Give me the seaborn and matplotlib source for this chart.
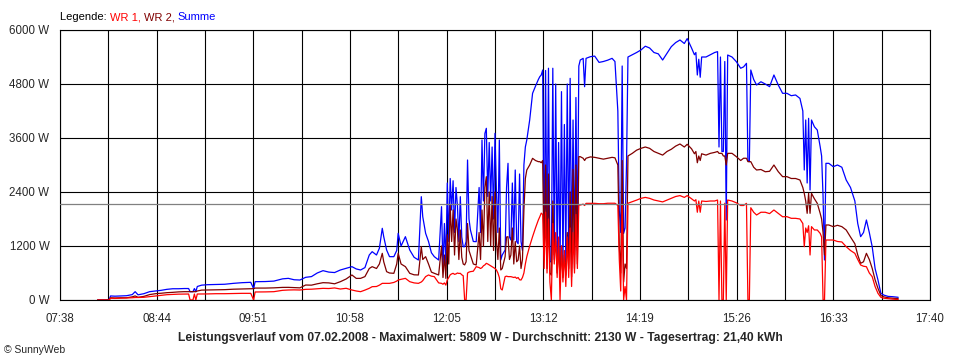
import matplotlib
matplotlib.use("Agg")
import matplotlib.pyplot as plt
import numpy as np
import pandas as pd
import seaborn as sns

# --- data (07.02.2008) ---
times = [
    "08:04", "08:10", "08:12", "08:13", "08:16", "08:20", "08:24", "08:28", "08:30", "08:32",
    "08:36", "08:40", "08:44", "08:48", "08:52", "08:56", "09:00", "09:04", "09:07", "09:08",
    "09:10", "09:11", "09:12", "09:13", "09:16", "09:20", "09:26", "09:32", "09:38", "09:44",
    "09:50", "09:52", "09:53", "10:00", "10:06", "10:12", "10:16", "10:20", "10:24", "10:28",
    "10:32", "10:36", "10:40", "10:44", "10:48", "10:52", "10:56",
    "11:00", "11:03", "11:06", "11:09", "11:12", "11:14", "11:17", "11:19", "11:21", "11:22",
    "11:24", "11:26", "11:29", "11:31", "11:32", "11:34", "11:37", "11:40", "11:43", "11:46",
    "11:48", "11:49", "11:51", "11:53", "11:55", "11:57", "12:00", "12:02", "12:03", "12:04",
    "12:05", "12:06", "12:07", "12:08", "12:09", "12:10", "12:11", "12:12", "12:13", "12:14",
    "12:15", "12:16", "12:17", "12:18", "12:19", "12:20", "12:21", "12:22", "12:24", "12:26",
    "12:28", "12:29", "12:30", "12:31", "12:32", "12:33", "12:34", "12:35", "12:36", "12:37",
    "12:38", "12:39", "12:40", "12:41", "12:42", "12:43", "12:44", "12:46", "12:47", "12:48",
    "12:49", "12:50", "12:51", "12:52", "12:53", "12:54", "12:55", "12:56", "12:57", "12:58",
    "12:59", "13:00", "13:01", "13:03", "13:05", "13:07", "13:09", "13:10", "13:11", "13:12",
    "13:13", "13:14", "13:15", "13:16", "13:17", "13:18", "13:19", "13:20", "13:21", "13:22",
    "13:23", "13:24", "13:25", "13:26", "13:27", "13:28", "13:29", "13:30", "13:31", "13:32",
    "13:33", "13:34", "13:35", "13:36", "13:37", "13:38", "13:40", "13:41", "13:42", "13:45",
    "13:48", "13:51", "13:54", "13:57", "14:00", "14:02", "14:04", "14:05", "14:06", "14:07",
    "14:08", "14:09", "14:10", "14:11", "14:14", "14:17", "14:20", "14:23", "14:26", "14:29",
    "14:32", "14:35", "14:38", "14:41", "14:44", "14:47", "14:50", "14:52", "14:55", "14:57",
    "14:58", "14:59", "15:00", "15:01", "15:02", "15:05", "15:08", "15:11", "15:13", "15:14",
    "15:15", "15:16", "15:17", "15:18", "15:19", "15:20", "15:23", "15:26", "15:29", "15:31",
    "15:33", "15:34", "15:35", "15:36", "15:38", "15:40", "15:43", "15:46", "15:49", "15:52",
    "15:55", "15:58", "16:01", "16:04", "16:07", "16:10", "16:12", "16:13", "16:14", "16:15",
    "16:16", "16:17", "16:18", "16:20", "16:22", "16:24", "16:25", "16:26", "16:27", "16:28",
    "16:30", "16:33", "16:36", "16:39", "16:42", "16:45", "16:48", "16:50", "16:52", "16:54",
    "16:56", "16:58", "17:00", "17:02", "17:04", "17:06", "17:08", "17:11", "17:14", "17:18",
]
wr1 = [
    0, 0, 0, 40, 35, 40, 45, 50, 55, 55,
    60, 74, 90, 100, 118, 125, 130, 133, 133, 0,
    0, 133, 0, 133, 133, 135, 140, 140, 145, 148,
    148, 0, 178, 180, 185, 215, 222, 225, 222, 237,
    240, 250, 259, 255, 268, 244, 260,
    222, 200, 185, 220, 260, 296, 300, 330, 370, 370,
    370, 370, 390, 420, 444, 460, 481, 407, 380, 370,
    400, 430, 520, 556, 530, 519, 380, 370, 350, 380,
    330, 450, 500, 560, 580, 593, 570, 580, 600, 590,
    593, 560, 540, 0, 0, 600, 620, 630, 640, 741,
    720, 700, 720, 760, 780, 815, 800, 780, 760, 740,
    720, 700, 667, 600, 500, 250, 222, 519, 530, 519,
    520, 519, 510, 500, 510, 480, 500, 450, 444, 500,
    600, 800, 963, 1200, 1407, 1600, 1778, 1850, 1930, 1900,
    700, 1950, 600, 1800, 400, 0, 1700, 800, 1500, 500,
    1400, 0, 1200, 400, 1100, 300, 1400, 500, 1600, 300,
    1500, 600, 1900, 700, 2111, 2111, 2130, 2100, 2148, 2148,
    2148, 2140, 2140, 2150, 2150, 2150, 2100, 900, 200, 2100,
    0, 300, 0, 2150, 2185, 2220, 2259, 2280, 2259, 2222,
    2200, 2180, 2220, 2260, 2300, 2320, 2280, 2320, 2250, 2200,
    2230, 1950, 2200, 1950, 2200, 2190, 2200, 2200, 2222, 0,
    2200, 0, 0, 2150, 0, 2222, 2200, 2160, 2100, 2100,
    2148, 0, 0, 2050, 1950, 1889, 1950, 1950, 1920, 2000,
    1926, 1850, 1852, 1815, 1815, 1800, 1700, 1185, 1600, 1500,
    1650, 1000, 1630, 1556, 1556, 1481, 1400, 0, 0, 1333,
    1333, 1333, 1300, 1290, 1185, 1100, 1037, 900, 778, 750,
    740, 600, 519, 300, 148, 60, 40, 30, 20, 10,
]
wr2 = [
    0, 0, 0, 50, 45, 50, 50, 70, 90, 60,
    80, 120, 140, 150, 163, 170, 180, 185, 185, 185,
    185, 185, 185, 200, 220, 222, 225, 230, 240, 245,
    252, 252, 265, 265, 270, 280, 281, 275, 270, 333,
    330, 360, 385, 380, 360, 407, 467,
    556, 480, 481, 520, 700, 741, 700, 800, 1037, 850,
    630, 600, 593, 800, 1037, 800, 741, 593, 560, 556,
    1185, 900, 963, 800, 620, 593, 556, 1200, 500, 1000,
    480, 1450, 800, 2111, 1300, 2000, 1000, 1800, 1556, 900,
    1556, 950, 800, 780, 850, 1700, 1100, 1000, 800, 778,
    1500, 900, 2000, 1200, 2500, 2741, 1300, 2400, 1200, 2300,
    1100, 2400, 1300, 900, 1600, 667, 700, 963, 1400, 1407,
    900, 1000, 1600, 800, 1300, 850, 889, 1200, 700, 900,
    2000, 2700, 2889, 3000, 3148, 3100, 3074, 3074, 3050, 3100,
    900, 3000, 700, 2800, 600, 550, 2200, 1000, 1300, 600,
    1200, 519, 1200, 500, 1000, 550, 1500, 700, 2400, 519,
    2900, 700, 3000, 800, 3185, 3185, 3150, 3100, 3150, 3180,
    3170, 3150, 3130, 3150, 3170, 3160, 3000, 1200, 600, 3100,
    400, 800, 700, 3200, 3259, 3330, 3370, 3400, 3370, 3300,
    3259, 3220, 3300, 3350, 3420, 3467, 3400, 3460, 3360, 3250,
    3300, 3050, 3200, 3100, 3250, 3220, 3259, 3280, 3300, 3259,
    3259, 3259, 3200, 3200, 3000, 3259, 3259, 3185, 3100, 3150,
    3150, 3074, 3074, 3074, 2950, 2889, 2900, 2850, 2860, 3000,
    2852, 2741, 2741, 2700, 2700, 2667, 2500, 2370, 2200, 1926,
    2370, 1926, 2370, 2250, 2148, 1926, 1800, 1500, 1000, 1667,
    1667, 1630, 1660, 1630, 1556, 1400, 1250, 1000, 815, 850,
    1037, 900, 704, 450, 259, 100, 70, 50, 40, 30,
]
summe = [
    0, 0, 10, 90, 85, 90, 95, 120, 185, 115,
    140, 185, 200, 215, 237, 250, 250, 255, 255, 185,
    185, 255, 185, 300, 330, 340, 345, 350, 370, 385,
    393, 250, 407, 410, 420, 470, 481, 450, 444, 504,
    520, 600, 652, 620, 610, 667, 704,
    741, 690, 667, 720, 1000, 1074, 1000, 1150, 1593, 1407,
    1111, 963, 963, 1100, 1481, 1200, 1407, 1111, 950, 889,
    2296, 1852, 1481, 1300, 1050, 963, 889, 2074, 700, 1700,
    800, 2600, 1300, 2700, 2000, 2650, 1500, 2500, 2100, 1300,
    2296, 1400, 1185, 1185, 1300, 3111, 1800, 1556, 1300, 1296,
    2500, 1500, 3556, 2200, 3700, 3815, 2300, 3500, 2200, 3400,
    1800, 3704, 2400, 1500, 3556, 889, 1000, 1111, 2500, 3037,
    1400, 1333, 2600, 1333, 2889, 1300, 1250, 2800, 1300, 1100,
    3000, 3400, 3556, 4000, 4593, 4750, 4900, 4963, 5000, 5111,
    1000, 5100, 889, 5150, 850, 850, 5150, 900, 4800, 800,
    3500, 740, 4630, 750, 3900, 850, 4800, 1000, 4926, 800,
    4000, 1000, 4500, 1100, 5200, 5333, 5370, 4740, 5370, 5407,
    5420, 5280, 5300, 5330, 5370, 5300, 4200, 2000, 1500, 5200,
    1480, 1600, 3000, 5400, 5450, 5500, 5556, 5640, 5600, 5500,
    5470, 5333, 5480, 5630, 5720, 5778, 5700, 5809, 5600, 5450,
    5500, 5000, 5350, 4950, 5400, 5400, 5450, 5500, 5519, 3400,
    5400, 3300, 3300, 5300, 1778, 5444, 5400, 5296, 5150, 5180,
    5259, 3100, 3074, 5111, 4900, 4778, 4850, 4800, 4741, 5000,
    4778, 4593, 4593, 4540, 4556, 4480, 4200, 2889, 4000, 2600,
    4037, 2444, 4000, 3850, 3778, 3407, 3200, 2300, 889, 3037,
    3037, 2963, 3000, 2950, 2667, 2500, 2200, 1700, 1407, 1500,
    1778, 1500, 1185, 700, 444, 150, 110, 80, 74, 60,
]
average_w = 2130
y_ticks = [0, 1200, 2400, 3600, 4800, 6000]
y_labels = ["0 W", "1200 W", "2400 W", "3600 W", "4800 W", "6000 W"]
x_labels = ["07:38", "08:44", "09:51", "10:58", "12:05", "13:12", "14:19", "15:26", "16:33", "17:40"]
legend_parts = ["Legende: ", "WR 1, ", "WR 2, ", "Summe"]
legend_colors = ["black", "#FF0000", "#800000", "#0000FF"]
title = ("Leistungsverlauf vom 07.02.2008 - Maximalwert: 5809 W - "
         "Durchschnitt: 2130 W - Tagesertrag: 21,40 kWh")

assert len(times) == len(wr1) == len(wr2) == len(summe)


def to_minutes(hhmm: str) -> int:
    h, m = hhmm.split(":")
    return int(h) * 60 + int(m)


df = pd.DataFrame({"t": [to_minutes(t) for t in times], "wr1": wr1, "wr2": wr2, "summe": summe})

sns.set_style("white")
plt.rcParams["font.family"] = ["Liberation Sans", "DejaVu Sans"]

fig = plt.figure(figsize=(9.6, 3.6), dpi=100)
ax = fig.add_axes([60 / 960, 60 / 360, 870 / 960, 270 / 360])

x_start, x_end = to_minutes(x_labels[0]), to_minutes(x_labels[-1])
ax.set_xlim(x_start, x_end)
ax.set_ylim(0, 6000)
ax.set_xticks(np.linspace(x_start, x_end, len(x_labels)))
ax.set_xticks(np.linspace(x_start, x_end, 2 * len(x_labels) - 1), minor=True)
ax.set_xticklabels(x_labels)
ax.set_yticks(y_ticks)
ax.set_yticklabels(y_labels)
ax.grid(True, which="both", axis="x", color="black", linewidth=0.8)
ax.grid(True, which="major", axis="y", color="black", linewidth=0.8)
ax.set_axisbelow(True)
ax.tick_params(which="both", direction="out", length=3.6, width=0.8, color="black",
               labelsize=8.3, pad=4)
ax.tick_params(axis="x", which="major", pad=6)
for spine in ax.spines.values():
    spine.set_visible(True)
    spine.set_color("black")
    spine.set_linewidth(0.8)

for col, color in [("summe", "#0000FF"), ("wr2", "#800000"), ("wr1", "#FF0000")]:
    sns.lineplot(data=df, x="t", y=col, color=color, linewidth=0.9, estimator=None,
                 sort=False, ax=ax)
ax.axhline(average_w, color="#808080", linewidth=0.9, zorder=5)
ax.set_xlabel("")
ax.set_ylabel("")

fig.text(480 / 960, 1 - 338 / 360, title, ha="center", va="center", fontsize=8.7, fontweight="bold")
fig.text(4 / 960, 1 - 350 / 360, "\u00a9 SunnyWeb", ha="left", va="center", fontsize=7.5)

fig.canvas.draw()
renderer = fig.canvas.get_renderer()
x_pos = 60 / 960
for part, color in zip(legend_parts, legend_colors):
    t = fig.text(x_pos, 1 - 17 / 360, part, color=color, ha="left", va="center", fontsize=8)
    x_pos = t.get_window_extent(renderer).x1 / fig.bbox.width

fig.savefig("out.png", dpi=100)
